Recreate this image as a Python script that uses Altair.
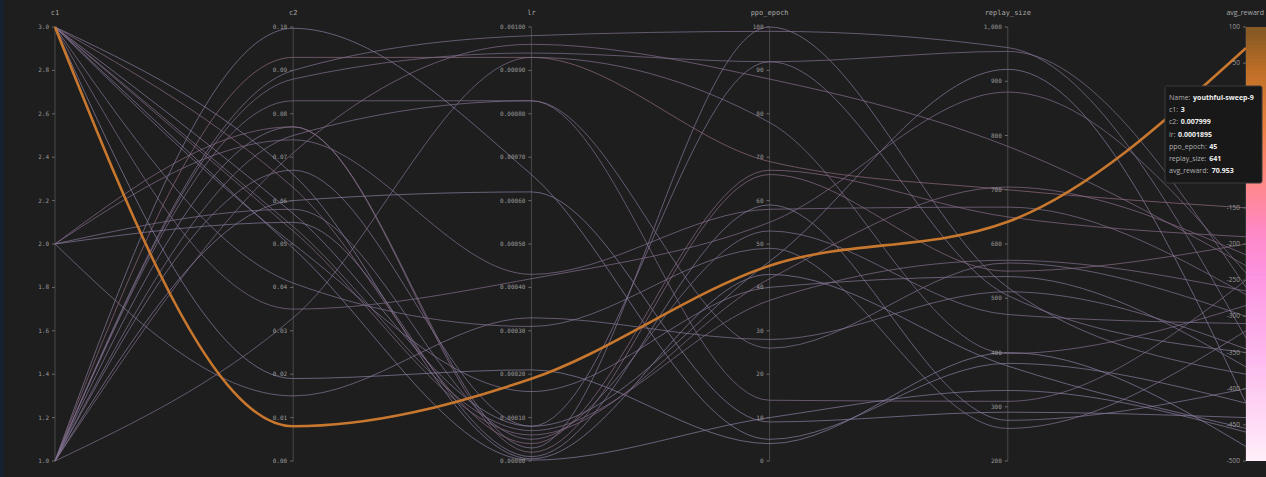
import altair as alt
import pandas as pd

# ---- hyper-parameter sweep: one row per run ----
axes = ["c1", "c2", "lr", "ppo_epoch", "replay_size", "avg_reward"]
axis_range = {
    "c1": (1.0, 3.0),
    "c2": (0.0, 0.1),
    "lr": (0.0, 0.001),
    "ppo_epoch": (0, 100),
    "replay_size": (200, 1000),
    "avg_reward": (-500, 100),
}

run_names = [
    "youthful-sweep-9", "run-02", "run-03", "run-04", "run-05", "run-06", "run-07",
    "run-08", "run-09", "run-10", "run-11", "run-12", "run-13", "run-14", "run-15",
    "run-16", "run-17", "run-18", "run-19", "run-20", "run-21", "run-22", "run-23",
    "run-24", "run-25", "run-26", "run-27",
]
c1 = [3, 1, 1, 1, 1, 1, 1, 1, 1, 1, 1, 1, 2, 2, 2, 2, 2, 3, 3, 3, 3, 3, 3, 3, 3, 3, 3]
c2 = [0.007999, 0.0997, 0.093, 0.090, 0.088, 0.083, 0.077, 0.075, 0.071, 0.067, 0.060,
      0.033, 0.077, 0.074, 0.058, 0.055, 0.015, 0.066, 0.063, 0.057, 0.054, 0.053,
      0.050, 0.049, 0.041, 0.035, 0.019]
lr = [0.0001895, 0.00066, 0.00093, 0.00098, 0.00094, 0.00083, 0.00003, 0.00083, 0.00096,
      0.00008, 0.00062, 0.00093, 0.00002, 0.00043, 0.00005, 0.00001, 0.00033, 0.000005,
      0.00004, 0.00008, 0.00007, 0.00006, 0.00016, 0.000002, 0.00031, 0.00042, 0.00021]
ppo_epoch = [45, 5, 69, 99, 92, 14, 100, 26, 88, 92, 9, 78, 66, 58, 53, 59, 28, 43, 67,
             46, 37, 42, 40, 10, 49, 55, 4]
replay_size = [641, 380, 700, 962, 955, 310, 520, 565, 780, 505, 290, 398, 550, 668, 470,
               275, 512, 375, 650, 922, 570, 705, 540, 330, 260, 880, 400]
avg_reward = [70.953, -420, -150, -330, -260, -250, -380, -300, -230, -350, -440, -285,
              -200, -270, -310, -400, -345, -455, -190, -420, -265, -215, -370, -460,
              -320, -240, -480]

highlight_run = "youthful-sweep-9"

# tick values per axis
c1_ticks = [1.0, 1.2, 1.4, 1.6, 1.8, 2.0, 2.2, 2.4, 2.6, 2.8, 3.0]
c2_ticks = [0.00, 0.01, 0.02, 0.03, 0.04, 0.05, 0.06, 0.07, 0.08, 0.09, 0.10]
lr_ticks = [0.0, 0.0001, 0.0002, 0.0003, 0.0004, 0.0005, 0.0006, 0.0007, 0.0008, 0.0009, 0.001]
ppo_ticks = [0, 10, 20, 30, 40, 50, 60, 70, 80, 90, 100]
replay_ticks = [200, 300, 400, 500, 600, 700, 800, 900, 1000]
reward_ticks = [-500, -450, -400, -350, -300, -250, -200, -150, -100, -50, 0, 50, 100]

# ---- layout ----
W, H = 1266, 477
LEFT, STEP = 55.0, 238.2          # pixel x of first axis and spacing
TOP, BOTTOM = 27.0, 461.0         # pixel y of axis max / min
x_dom = [-LEFT / STEP, (W - LEFT) / STEP]
span = BOTTOM - TOP
y_dom = [(BOTTOM - H) / span, BOTTOM / span]

# hover card box (pixels)
CARD_X0, CARD_Y0, CARD_X1, CARD_Y1 = 1165, 86, 1262, 183


def to_pos(px):
    return (px - LEFT) / STEP


def to_frac(py):
    return (BOTTOM - py) / span


TICK_LEN = 3 / STEP
title_frac = to_frac(13)

xs = alt.Scale(domain=x_dom, nice=False, zero=False)
ys = alt.Scale(domain=y_dom, nice=False, zero=False)

cols = {"c1": c1, "c2": c2, "lr": lr, "ppo_epoch": ppo_epoch,
        "replay_size": replay_size, "avg_reward": avg_reward}

rows = []
for i, name in enumerate(run_names):
    for j, ax in enumerate(axes):
        lo, hi = axis_range[ax]
        rows.append({"run": name, "pos": j, "frac": (cols[ax][i] - lo) / (hi - lo),
                     "avg": avg_reward[i], "hl": int(name == highlight_run)})
lines_df = pd.DataFrame(rows)


def fmt(ax, v):
    if ax == "c1":
        return f"{v:.1f}"
    if ax == "c2":
        return f"{v:.2f}"
    if ax == "lr":
        return f"{v:.5f}"
    if ax == "replay_size":
        return f"{int(v):,}"
    return f"{int(v)}"


tick_lists = {"c1": c1_ticks, "c2": c2_ticks, "lr": lr_ticks, "ppo_epoch": ppo_ticks,
              "replay_size": replay_ticks, "avg_reward": reward_ticks}
trows = []
for j, ax in enumerate(axes):
    lo, hi = axis_range[ax]
    for t in tick_lists[ax]:
        f = (t - lo) / (hi - lo)
        # labels of the last axis that sit under the hover card are covered by it
        covered = ax == "avg_reward" and to_frac(CARD_Y1) < f < to_frac(CARD_Y0)
        trows.append({"pos": j, "pos2": j - TICK_LEN, "frac": f,
                      "label": fmt(ax, t), "last": int(ax == "avg_reward"),
                      "covered": int(covered)})
ticks_df = pd.DataFrame(trows)
axes_df = pd.DataFrame({"pos": list(range(len(axes))), "title": axes,
                        "last": [int(a == "avg_reward") for a in axes],
                        "y0": [0.0] * len(axes), "y1": [1.0] * len(axes),
                        "ty": [title_frac] * len(axes)})

X = alt.X("pos:Q", scale=xs, axis=None)
Y = alt.Y("frac:Q", scale=ys, axis=None)

axis_lines = alt.Chart(axes_df).mark_rule(color="#484848", strokeWidth=1).encode(
    x=X, y=alt.Y("y0:Q", scale=ys, axis=None), y2="y1:Q"
)

run_lines = alt.Chart(lines_df).transform_filter("datum.hl == 0").mark_line(
    interpolate="monotone", strokeWidth=1, opacity=0.72
).encode(
    x=X, y=Y, detail="run:N", order="pos:Q",
    color=alt.Color("avg:Q", legend=None,
                    scale=alt.Scale(domain=[-500, -250, 100],
                                    range=["#887ea2", "#7e6c8a", "#8c6a4c"])),
)

hl_line = alt.Chart(lines_df).transform_filter("datum.hl == 1").mark_line(
    interpolate="monotone", strokeWidth=2.6, color="#c8772e"
).encode(x=X, y=Y, order="pos:Q")

tick_marks = alt.Chart(ticks_df).mark_rule(color="#6a6a6a", strokeWidth=1).encode(
    x=X, x2="pos2:Q", y=Y
)

tick_mono = alt.Chart(ticks_df).transform_filter("datum.last == 0").mark_text(
    align="right", baseline="middle", dx=-6, fontSize=6, font="DejaVu Sans Mono",
    color="#9a9a9a"
).encode(x=X, y=Y, text="label:N")

tick_sans = alt.Chart(ticks_df).transform_filter(
    "datum.last == 1 && datum.covered == 0"
).mark_text(
    align="right", baseline="middle", dx=-6, fontSize=6.5, font="Open Sans",
    color="#9a9a9a"
).encode(x=X, y=Y, text="label:N")

titles_mono = alt.Chart(axes_df).transform_filter("datum.last == 0").mark_text(
    align="center", baseline="middle", fontSize=7, font="DejaVu Sans Mono",
    color="#a8a8a8"
).encode(x=X, y=alt.Y("ty:Q", scale=ys, axis=None), text="title:N")

titles_sans = alt.Chart(axes_df).transform_filter("datum.last == 1").mark_text(
    align="right", baseline="middle", fontSize=7, font="Open Sans", dx=18,
    color="#a8a8a8"
).encode(x=X, y=alt.Y("ty:Q", scale=ys, axis=None), text="title:N")

# colour bar for avg_reward, built from slightly overlapping thin bands
bar_stops = [(0.0, "#855824"), (0.10, "#c27028"), (0.22, "#e8803e"), (0.36, "#ff8a8c"),
             (0.46, "#ff8ac4"), (0.56, "#ff94e2"), (0.75, "#ffb8ee"), (1.0, "#fff0fa")]
n_bands = 120
bands = pd.DataFrame({
    "f0": [1 - k / n_bands for k in range(n_bands)],
    "f1": [max(0.0, 1 - (k + 1.8) / n_bands) for k in range(n_bands)],
    "t": [(k + 0.5) / n_bands for k in range(n_bands)],
    "x0": [float(len(axes) - 1)] * n_bands,
    "x1": [x_dom[1]] * n_bands,
})
color_bar = alt.Chart(bands).mark_rect().encode(
    x=alt.X("x0:Q", scale=xs, axis=None), x2="x1:Q",
    y=alt.Y("f0:Q", scale=ys, axis=None), y2="f1:Q",
    color=alt.Color("t:Q", legend=None,
                    scale=alt.Scale(domain=[s[0] for s in bar_stops],
                                    range=[s[1] for s in bar_stops])),
    order=alt.Order("t:Q", sort="descending"),
)

# hover card for the highlighted run
hi_idx = run_names.index(highlight_run)
card_labels = ["Name:", "c1:", "c2:", "lr:", "ppo_epoch:", "replay_size:", "avg_reward:"]
card_values = [highlight_run, "3", "0.007999", "0.0001895", str(ppo_epoch[hi_idx]),
               str(replay_size[hi_idx]), f"{avg_reward[hi_idx]:.3f}"]

# approximate advance widths (em) of the sans face used in the card
char_w = {"N": 0.76, "a": 0.56, "c": 0.48, "e": 0.56, "h": 0.61, "l": 0.26, "m": 0.93,
          "o": 0.6, "p": 0.61, "r": 0.41, "s": 0.47, "y": 0.5, "z": 0.47, "i": 0.26,
          "g": 0.54, "w": 0.8, "d": 0.61, "_": 0.45, ":": 0.27, " ": 0.26}
CARD_FS = 7.0


def text_w(s):
    return sum(char_w.get(ch, 0.57) for ch in s) * CARD_FS


card_rows = []
for k, (lab, val) in enumerate(zip(card_labels, card_values)):
    y = CARD_Y0 + 12 + 12.2 * k
    card_rows.append({"pos": to_pos(CARD_X0 + 4), "frac": to_frac(y), "t": lab, "bold": 0})
    card_rows.append({"pos": to_pos(CARD_X0 + 4 + text_w(lab) + 2.5), "frac": to_frac(y),
                      "t": val, "bold": 1})
card_df = pd.DataFrame(card_rows)

box_df = pd.DataFrame({"a": [to_pos(CARD_X0)], "b": [to_pos(CARD_X1)],
                       "c": [to_frac(CARD_Y0)], "d": [to_frac(CARD_Y1)]})
card_box = alt.Chart(box_df).mark_rect(
    fill="#181818", stroke="#3a3a3a", strokeWidth=1, cornerRadius=2
).encode(x=alt.X("a:Q", scale=xs, axis=None), x2="b:Q",
         y=alt.Y("c:Q", scale=ys, axis=None), y2="d:Q")

card_lab = alt.Chart(card_df).transform_filter("datum.bold == 0").mark_text(
    align="left", baseline="middle", fontSize=CARD_FS, font="Open Sans", color="#b0b0b0"
).encode(x=X, y=Y, text="t:N")

card_val = alt.Chart(card_df).transform_filter("datum.bold == 1").mark_text(
    align="left", baseline="middle", fontSize=CARD_FS, font="Open Sans",
    fontWeight="bold", color="#f0f0f0"
).encode(x=X, y=Y, text="t:N")

edge_df = pd.DataFrame({"a": [to_pos(0)], "b": [to_pos(4)], "c": [to_frac(0)],
                        "d": [to_frac(H)]})
edge = alt.Chart(edge_df).mark_rect(color="#152030").encode(
    x=alt.X("a:Q", scale=xs, axis=None), x2="b:Q",
    y=alt.Y("c:Q", scale=ys, axis=None), y2="d:Q"
)

chart = alt.layer(
    axis_lines, run_lines, hl_line, tick_marks, tick_mono, tick_sans,
    titles_mono, titles_sans, color_bar, card_box, card_lab, card_val, edge,
).resolve_scale(color="independent").properties(
    width=W, height=H, autosize=alt.AutoSizeParams(type="none"), padding=0,
    background="#1e1e1e",
).configure_view(strokeWidth=0)

chart.save("out.html", embed_options={"renderer": "svg", "actions": False})
